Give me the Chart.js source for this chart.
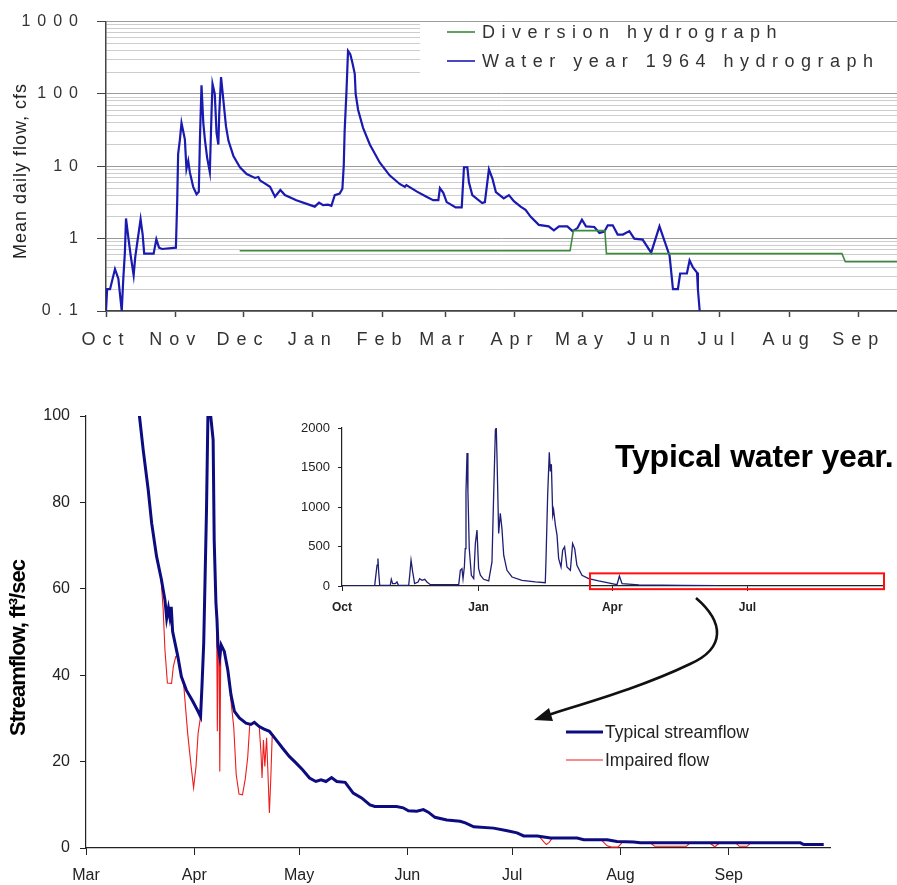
<!DOCTYPE html>
<html>
<head>
<meta charset="utf-8">
<script src="https://cdn.jsdelivr.net/npm/chart.js@4/dist/chart.umd.min.js"></script>
<style>
html,body{margin:0;padding:0;background:#fff;}
#wrap{position:relative;width:897px;height:885px;overflow:hidden;background:#fff;}
canvas{position:absolute;display:block;}
#c1{left:0;top:0;width:897px;height:360px;}
#c2{left:0;top:360px;width:897px;height:525px;}
#c3{left:290px;top:410px;width:600px;height:210px;}
</style>
</head>
<body>
<div id="wrap">
<canvas id="c1" width="897" height="360"></canvas>
<canvas id="c2" width="897" height="525"></canvas>
<canvas id="c3" width="600" height="210"></canvas>
</div>
<script>
// ---------------- DATA ----------------
// Top chart: water year 1964 (days counted from Oct 1)
const wyMonthLabels = ['Oct','Nov','Dec','Jan','Feb','Mar','Apr','May','Jun','Jul','Aug','Sep'];
const wyMonthStartDays = [0,31,61,92,123,151,182,212,243,273,304,335];
const logMajorLabels = ['0.1','1','10','100','1000'];

const wy1964Day = [0,0.5,1.8,4,5.5,7,7.7,8.4,8.9,10,11,12.3,13,14,15.4,16.3,17,21.2,22.4,23.6,25,31.1,31.7,32.1,32.9,33.6,34.4,35.1,35.8,36.6,37.3,38.8,40.3,41.3,41.8,42.5,43.3,44,45,46.2,47,47.4,48.4,49.2,50,50.4,51.2,52.3,53.4,54.5,56.7,59.6,62.6,66.3,67.8,68.5,73,75.2,77.6,79.6,84.7,92.9,94.8,96.6,98.8,100.3,101.8,104,105.2,105.8,106.2,107,107.7,108.7,109.6,110.7,111.1,112.2,114.4,117.4,121.8,126.2,130.7,133,133.7,138.2,142.6,145.6,147.9,148.6,150.1,151.6,155.6,158.3,159.3,160.8,161.5,163,167.4,168.6,170.4,172,173.5,177,179.3,181.5,184.5,186.7,189,192.6,197,199.3,201.6,205.3,207.6,209.8,211.8,213.6,217.3,219.6,221.8,223.3,225.5,227.7,230,232.9,235.1,238.8,242.6,246.3,248.6,250.8,252.3,254.5,255.5,258.5,259.7,261.2,263,263.4,264.2];
const wy1964Cfs = [0.1,0.2,0.2,0.38,0.28,0.1,0.28,0.64,1.9,1.0,0.58,0.31,0.55,0.92,1.85,1.15,0.62,0.62,0.98,0.75,0.72,0.75,3.45,14.7,23.6,39.7,30,23.6,9.2,11.9,8.3,5.2,4.1,4.45,23.6,132,39.7,23.6,13.2,8.3,60,138,100,29,20,54,171,78,35.6,22.5,13.9,9.7,7.8,6.9,7.1,6.4,5.2,3.8,4.7,4.0,3.4,2.77,3.15,2.9,2.95,2.85,4.0,4.2,4.9,10.2,31,106,394,354,275,190,100,60,34,20,11.3,7.5,5.7,5.2,5.5,4.5,3.8,3.4,3.4,5.0,4.3,3.2,2.7,2.7,9.7,9.7,6.0,4.0,3.1,3.2,9.1,6.7,4.4,3.6,4.0,3.3,2.77,2.5,2.0,1.55,1.48,1.3,1.48,1.48,1.27,1.4,1.83,1.48,1.45,1.2,1.25,1.53,1.53,1.14,1.14,1.27,1.0,0.97,0.64,1.48,0.92,0.58,0.2,0.2,0.33,0.33,0.5,0.4,0.34,0.2,0.1];

const diversionDay = [59.5,206.5,208,222,222.7,327.5,329,352];
const diversionCfs = [0.68,0.68,1.29,1.29,0.62,0.62,0.48,0.48];

// Bottom chart: typical year Mar–Sep (days counted from Mar 1)
const msMonthLabels = ['Mar','Apr','May','Jun','Jul','Aug','Sep'];
const msMonthStartDays = [0,31,61,92,122,153,184];

const typicalDay = [14.5,15.3,16.4,17.8,18.8,20.2,21.6,22.6,23.1,23.6,24.0,24.4,24.8,26.3,27.3,28.7,30.6,32.1,32.8,33.2,33.7,34.5,34.9,35.3,35.7,36.4,36.7,37.2,37.5,37.8,38.3,38.7,39.6,40.6,41.5,42.5,43.9,45.8,47.2,48.2,49.6,51,52.5,54.4,56.3,58.2,60.1,62,64,65.8,67.3,68.7,70.3,71.8,74.2,76.5,78.9,81.3,82.7,88.9,90.8,92.3,94.7,96.6,98,99.9,103.3,107.1,108.6,111,116.7,120.6,123.4,125.3,129.2,133,140.6,142.5,149.2,152,156.8,158.7,204.5,205.5,211.2];
const typicalCfs = [106,100,92,83,75.2,67.5,62.1,57.4,53.2,55.5,53.5,55.8,50.1,44.3,39.7,36.6,33.9,31.6,30.4,37.4,47.4,78.3,100,150,100,94.4,71.3,56.7,52.8,46.6,44.3,47.0,45.5,41.2,35.5,31.6,30.1,28.9,28.6,29.1,28.1,27.5,27.0,25.1,23.1,21.2,19.7,18.1,16.2,15.4,15.8,15.4,16.3,15.4,15.2,12.7,11.6,10.0,9.6,9.6,9.3,8.6,8.5,8.9,8.3,7.1,6.5,6.2,5.8,4.9,4.6,4.0,3.5,2.8,2.8,2.3,2.3,1.9,1.9,1.5,1.4,1.2,1.2,0.8,0.8];

// impaired flow: separate dips below the typical flow (null = break)
const impairedDay = [21.5,22.1,22.6,23.3,24.5,25.0,25.7,26.3,27,
  28.0,29.1,30.1,30.8,31.5,32.1,32.8,33,
  37.4,37.6,37.8,38.1,38.3,38.6,39,
  41.3,42.3,43,43.8,44.8,45.6,46.3,46.9,47,
  49.6,50.1,50.4,50.8,51.2,51.7,52.2,52.5,52.9,53.3,54,
  129.6,131.2,131.8,132.6,133.5,134,
  147.5,149.2,150.5,152.3,153.7,154,
  161.5,162.8,171.9,173,174,
  178.5,180,181.5,182,
  186,187,189.3,190.3];
const impairedCfs = [62.1,55.1,45.9,38.2,38.1,42,44.3,44.3,null,
  37.5,26.6,18.9,13.9,18.9,26.6,30.4,null,
  53,27,47,46,17.7,46.5,null,
  35.5,28,17,12.5,12.3,16,21,28.8,null,
  28.1,22,16.2,25,18.9,25.5,15,8.1,16,25.8,null,
  2.8,1.3,0.8,1.3,2.3,null,
  1.9,0.5,0.2,0.2,1.5,null,
  1.2,0.4,0.4,1.2,null,
  1.2,0.3,1.2,null,
  1.2,0.4,0.4,1.2];

// Inset: full typical water year (days counted from Oct 1)
const insetMonthLabels = ['Oct','Jan','Apr','Jul'];
const insetMonthStartDays = [0,92,182,273];
const insetDay = [0,22,22.4,23.6,24.2,24.7,25.4,32.5,33.2,34.1,35.9,37,38,44.9,45.6,46.5,47.6,48.9,51.2,52.3,53.9,55.7,57.2,59.5,78.6,79.7,80.8,81.5,82.4,83,83.5,84.2,84.8,85.7,87.1,88.7,89.8,90.9,92,93.2,95.4,98.8,101,102.1,103.3,103.9,104.4,105.5,106.6,107.7,108.9,111.1,114.5,121.2,130.2,136.9,137.4,138.5,139.6,140.3,141,141.9,142.5,143.7,144.8,145.9,147.5,148.6,149.9,151.5,153.8,155.3,156.7,158.2,161.6,166.1,172.8,181.8,185.2,186.8,188.6,200,230,253];
const insetCfs = [0,0,72,263,347,178,8,8,85,30,30,51,8,8,136,326,178,30,51,93,72,85,51,17,17,199,220,93,241,474,1195,1682,1195,474,136,93,538,707,220,136,85,64,305,1131,1978,2000,1618,665,919,729,390,199,114,72,51,42,347,1152,1694,1449,1542,898,962,771,644,347,241,453,496,241,199,538,474,263,136,93,64,30,17,127,30,15,8,5];
// highlighted window in the inset (days from Oct 1, cfs)
const insetWindow = {from:167, to:365, low:-40, high:160};

// ---------------- HELPERS ----------------
const FONT = '"Liberation Sans", Arial, Helvetica, sans-serif';
const pts = (xs, ys) => xs.map((x, i) => ({x, y: ys[i]}));
const isDecade = v => Math.abs(Math.log10(v) - Math.round(Math.log10(v))) < 1e-9;
const logTicks = [];
for (let e = -1; e <= 2; e++) for (let m = 1; m <= 9; m++) logTicks.push(+(m * Math.pow(10, e)).toPrecision(3));
logTicks.push(1000);

Chart.defaults.font.family = FONT;
Chart.defaults.animation = false;
Chart.defaults.events = [];
Chart.defaults.plugins.legend.display = false;
Chart.defaults.plugins.tooltip.enabled = false;

// ---------------- TOP CHART ----------------
const topDecor = {
  id: 'topDecor',
  beforeDraw(chart) { chart.ctx.letterSpacing = '7px'; },
  beforeDatasetsDraw(chart) {
    const ctx = chart.ctx, a = chart.chartArea, y = chart.scales.y;
    ctx.save();
    ctx.fillStyle = '#fff';
    const top = y.getPixelForValue(1000) + 1.5, bot = y.getPixelForValue(190);
    ctx.fillRect(420, top, a.right - 420, bot - top);
    ctx.restore();
  },
  afterDraw(chart) {
    const ctx = chart.ctx;
    ctx.save();
    ctx.letterSpacing = '6.5px';
    ctx.font = '18px ' + FONT;
    ctx.textBaseline = 'middle';
    ctx.textAlign = 'left';
    chart.data.datasets.forEach((ds, i) => {
      const y = 32 + i * 29;
      ctx.strokeStyle = ds.borderColor;
      ctx.lineWidth = 1.6;
      ctx.beginPath(); ctx.moveTo(447, y); ctx.lineTo(475, y); ctx.stroke();
      ctx.fillStyle = '#333';
      ctx.fillText(ds.label, 482, y + 1);
    });
    // y-axis title
    const t = chart.options.scales.y.title;
    ctx.letterSpacing = '1px';
    ctx.font = '18px ' + FONT;
    ctx.fillStyle = '#222';
    ctx.translate(21, 171);
    ctx.rotate(-Math.PI / 2);
    ctx.textAlign = 'center';
    ctx.fillText(t.text, 0, 0);
    ctx.restore();
  }
};

new Chart(document.getElementById('c1'), {
  type: 'line',
  data: {
    datasets: [
      {label: 'Diversion hydrograph', data: pts(diversionDay, diversionCfs), borderColor: '#3c8a3c', borderWidth: 1.6, pointRadius: 0, tension: 0},
      {label: 'Water year 1964 hydrograph', data: pts(wy1964Day, wy1964Cfs), borderColor: '#1a1ab0', borderWidth: 2.2, pointRadius: 0, tension: 0}
    ]
  },
  options: {
    responsive: false, devicePixelRatio: 1,
    layout: {padding: {top: 17, left: 0, right: 0, bottom: 0}},
    scales: {
      x: {
        type: 'linear', min: 0, max: 352,
        afterFit(s) { s.height = 49; },
        afterBuildTicks(s) { s.ticks = wyMonthStartDays.map(v => ({value: v})); },
        ticks: {autoSkip: false, maxRotation: 0, callback: (v, i) => wyMonthLabels[i], font: {size: 18}, color: '#333', padding: 12},
        grid: {drawOnChartArea: false, tickLength: 6, tickColor: '#444', tickWidth: 1.5},
        border: {color: '#444', width: 1.5}
      },
      y: {
        type: 'logarithmic', min: 0.1, max: 1000,
        title: {display: false, text: 'Mean daily flow, cfs'},
        afterFit(s) { s.width = 106; },
        afterBuildTicks(s) { s.ticks = logTicks.map(v => ({value: v})); },
        ticks: {autoSkip: false, callback: v => isDecade(v) ? logMajorLabels[Math.round(Math.log10(v)) + 1] : '', font: {size: 16}, color: '#333', padding: 12},
        grid: {
          color: c => isDecade(c.tick.value) ? '#9c9c9c' : '#cdcdcd',
          tickColor: c => isDecade(c.tick.value) ? '#444' : 'rgba(0,0,0,0)',
          tickLength: 9, lineWidth: 1
        },
        border: {color: '#444', width: 1.5}
      }
    }
  },
  plugins: [topDecor]
});

// ---------------- BOTTOM CHART ----------------
const bottomDecor = {
  id: 'bottomDecor',
  afterDraw(chart) {
    const ctx = chart.ctx;
    ctx.save();
    // legend
    ctx.font = '17.5px ' + FONT;
    ctx.textBaseline = 'middle';
    chart.data.datasets.forEach((ds, i) => {
      const y = 372 + i * 28;
      ctx.strokeStyle = ds.borderColor;
      ctx.lineWidth = ds.borderWidth;
      ctx.beginPath(); ctx.moveTo(566, y); ctx.lineTo(603, y); ctx.stroke();
      ctx.fillStyle = '#222';
      ctx.fillText(ds.label, 605, y + 1);
    });
    // big caption
    ctx.font = 'bold 32px ' + FONT;
    ctx.letterSpacing = '-0.2px';
    ctx.fillStyle = '#000';
    ctx.textBaseline = 'alphabetic';
    ctx.fillText('Typical water year.', 615, 107);
    // curved arrow from the inset window to the detailed chart
    ctx.letterSpacing = '0px';
    ctx.strokeStyle = '#111';
    ctx.lineWidth = 2.6;
    ctx.beginPath();
    ctx.moveTo(696, 238);
    ctx.bezierCurveTo(724, 262, 726, 288, 690, 304);
    ctx.bezierCurveTo(640, 328, 585, 343, 548, 355);
    ctx.stroke();
    ctx.fillStyle = '#111';
    ctx.beginPath();
    ctx.moveTo(534, 360);
    ctx.lineTo(549, 348);
    ctx.lineTo(553, 361);
    ctx.closePath();
    ctx.fill();
    // y title
    const t = chart.options.scales.y.title;
    ctx.font = 'bold 22px ' + FONT;
    ctx.letterSpacing = '-1px';
    ctx.fillStyle = '#000';
    ctx.translate(19, 288);
    ctx.rotate(-Math.PI / 2);
    ctx.textAlign = 'center';
    ctx.textBaseline = 'middle';
    ctx.fillText(t.text, 0, 0);
    ctx.restore();
  }
};

new Chart(document.getElementById('c2'), {
  type: 'line',
  data: {
    datasets: [
      {label: 'Typical streamflow', data: pts(typicalDay, typicalCfs), borderColor: '#0c0c80', borderWidth: 3, pointRadius: 0, tension: 0},
      {label: 'Impaired flow', data: pts(impairedDay, impairedCfs), borderColor: '#ee1c1c', borderWidth: 1.1, pointRadius: 0, tension: 0, spanGaps: false}
    ]
  },
  options: {
    responsive: false, devicePixelRatio: 1,
    layout: {padding: {top: 56, left: 0, right: 67, bottom: 0}},
    scales: {
      x: {
        type: 'linear', min: 0, max: 213,
        afterFit(s) { s.height = 37; },
        afterBuildTicks(s) { s.ticks = msMonthStartDays.map(v => ({value: v})); },
        ticks: {autoSkip: false, maxRotation: 0, callback: (v, i) => msMonthLabels[i], font: {size: 16}, color: '#222', padding: 11},
        grid: {drawOnChartArea: false, tickLength: 7, tickColor: '#222'},
        border: {color: '#222', width: 1.2}
      },
      y: {
        min: 0, max: 100,
        title: {display: false, text: 'Streamflow, ft³/sec'},
        afterFit(s) { s.width = 86; },
        ticks: {stepSize: 20, font: {size: 16}, color: '#222', padding: 10},
        grid: {drawOnChartArea: false, tickLength: 6, tickColor: '#222'},
        border: {color: '#222', width: 1.2}
      }
    }
  },
  plugins: [bottomDecor]
});

// ---------------- INSET CHART ----------------
const insetDecor = {
  id: 'insetDecor',
  afterDatasetsDraw(chart) {
    const {x, y} = chart.scales, ctx = chart.ctx;
    const l = x.getPixelForValue(insetWindow.from), r = x.getPixelForValue(insetWindow.to);
    const t = y.getPixelForValue(insetWindow.high), b = y.getPixelForValue(insetWindow.low);
    ctx.save();
    ctx.strokeStyle = '#ff1010';
    ctx.lineWidth = 2;
    ctx.strokeRect(l, t, r - l, b - t);
    ctx.restore();
  }
};

new Chart(document.getElementById('c3'), {
  type: 'line',
  data: {
    datasets: [
      {label: 'Typical water year', data: pts(insetDay, insetCfs), borderColor: '#1e1e72', borderWidth: 1.3, pointRadius: 0, tension: 0}
    ]
  },
  options: {
    responsive: false, devicePixelRatio: 1,
    layout: {padding: {top: 18, left: 0, right: 6, bottom: 0}},
    scales: {
      x: {
        type: 'linear', min: 0, max: 365,
        afterFit(s) { s.height = 34; },
        afterBuildTicks(s) { s.ticks = insetMonthStartDays.map(v => ({value: v})); },
        ticks: {autoSkip: false, maxRotation: 0, callback: (v, i) => insetMonthLabels[i], font: {size: 12, weight: 'bold'}, color: '#222', padding: 9},
        grid: {drawOnChartArea: false, tickLength: 5, tickColor: '#222'},
        border: {color: '#222', width: 1.2}
      },
      y: {
        min: 0, max: 2000,
        afterFit(s) { s.width = 52; },
        ticks: {stepSize: 500, callback: v => String(v), font: {size: 13}, color: '#222', padding: 8},
        grid: {drawOnChartArea: false, tickLength: 4, tickColor: '#222'},
        border: {color: '#222', width: 1.2}
      }
    }
  },
  plugins: [insetDecor]
});
</script>
</body>
</html>
